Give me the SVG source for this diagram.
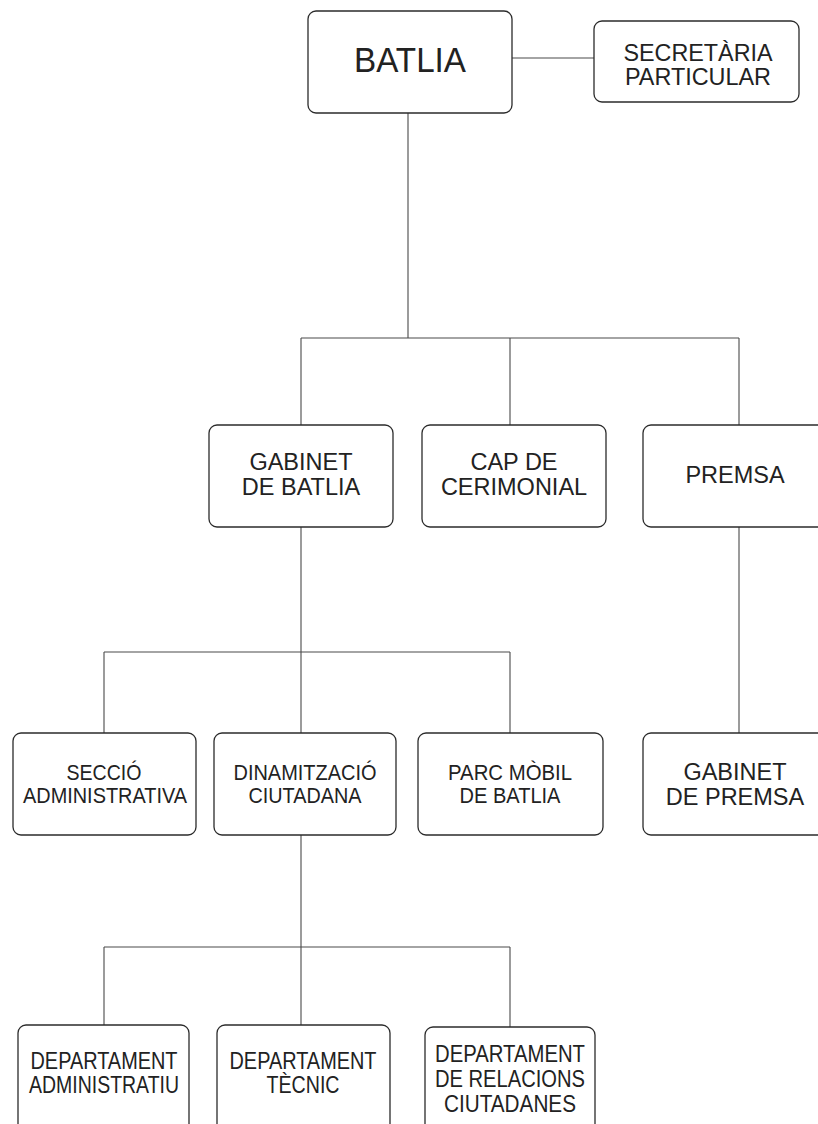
<svg xmlns="http://www.w3.org/2000/svg" width="818" height="1124" viewBox="0 0 818 1124">
<style>
.box{fill:#fff;stroke:#2b2b2b;stroke-width:1.3}
.ln{fill:none;stroke:#4a4a4a;stroke-width:1.1}
text{font-family:"Liberation Sans",Arial,sans-serif;fill:#222;text-anchor:middle}
.t0{font-size:35px}
.t1{font-size:23.5px}
.t2{font-size:23.5px}
.t3{font-size:22px}
.t4{font-size:23.5px}
</style>
<rect width="818" height="1124" fill="#fff"/>
<g id="connectors">
<path class="ln" d="M512 58H594"/>
<path class="ln" d="M408 113V338M301 338H739M301 338V425M510 338V425M739 338V425"/>
<path class="ln" d="M301 527V733M104 652H510M104 652V733M510 652V733M739 527V733"/>
<path class="ln" d="M301 835V1025M104 947H510M104 947V1025M510 947V1027"/>
</g>
<g id="batlia"><rect class="box" x="308" y="11" width="204" height="102" rx="8"/><text class="t0" x="410" y="72" textLength="112" lengthAdjust="spacingAndGlyphs">BATLIA</text></g>
<g id="secretaria"><rect class="box" x="594" y="21" width="205" height="81" rx="8"/><text class="t1" x="698" y="61" textLength="149" lengthAdjust="spacingAndGlyphs">SECRETÀRIA</text><text class="t1" x="698" y="85" textLength="146" lengthAdjust="spacingAndGlyphs">PARTICULAR</text></g>
<g id="gabinet-batlia"><rect class="box" x="209" y="425" width="184" height="102" rx="8"/><text class="t2" x="301" y="470">GABINET</text><text class="t2" x="301" y="495">DE BATLIA</text></g>
<g id="cap-cerimonial"><rect class="box" x="422" y="425" width="184" height="102" rx="8"/><text class="t2" x="514" y="470">CAP DE</text><text class="t2" x="514" y="495">CERIMONIAL</text></g>
<g id="premsa"><rect class="box" x="643" y="425" width="184" height="102" rx="8"/><text class="t2" x="735" y="483">PREMSA</text></g>
<g id="seccio"><rect class="box" x="13" y="733" width="183" height="102" rx="8"/><text class="t3" x="104" y="780" textLength="75" lengthAdjust="spacingAndGlyphs">SECCIÓ</text><text class="t3" x="105" y="803" textLength="164" lengthAdjust="spacingAndGlyphs">ADMINISTRATIVA</text></g>
<g id="dinamitzacio"><rect class="box" x="214" y="733" width="182" height="102" rx="8"/><text class="t3" x="305" y="780" textLength="143" lengthAdjust="spacingAndGlyphs">DINAMITZACIÓ</text><text class="t3" x="305" y="803" textLength="113" lengthAdjust="spacingAndGlyphs">CIUTADANA</text></g>
<g id="parc-mobil"><rect class="box" x="418" y="733" width="185" height="102" rx="8"/><text class="t3" x="510" y="780" textLength="124" lengthAdjust="spacingAndGlyphs">PARC MÒBIL</text><text class="t3" x="510" y="803" textLength="101" lengthAdjust="spacingAndGlyphs">DE BATLIA</text></g>
<g id="gabinet-premsa"><rect class="box" x="643" y="733" width="184" height="102" rx="8"/><text class="t2" x="735" y="780">GABINET</text><text class="t2" x="735" y="805">DE PREMSA</text></g>
<g id="dep-administratiu"><rect class="box" x="18" y="1025" width="171" height="112" rx="8"/><text class="t4" x="104" y="1069" textLength="147" lengthAdjust="spacingAndGlyphs">DEPARTAMENT</text><text class="t4" x="104" y="1093" textLength="150" lengthAdjust="spacingAndGlyphs">ADMINISTRATIU</text></g>
<g id="dep-tecnic"><rect class="box" x="217" y="1025" width="173" height="112" rx="8"/><text class="t4" x="303" y="1069" textLength="147" lengthAdjust="spacingAndGlyphs">DEPARTAMENT</text><text class="t4" x="303" y="1093" textLength="73" lengthAdjust="spacingAndGlyphs">TÈCNIC</text></g>
<g id="dep-relacions"><rect class="box" x="425" y="1027" width="170" height="110" rx="8"/><text class="t4" x="510" y="1062" textLength="150" lengthAdjust="spacingAndGlyphs">DEPARTAMENT</text><text class="t4" x="510" y="1087" textLength="150" lengthAdjust="spacingAndGlyphs">DE RELACIONS</text><text class="t4" x="510" y="1112" textLength="132" lengthAdjust="spacingAndGlyphs">CIUTADANES</text></g>
</svg>
